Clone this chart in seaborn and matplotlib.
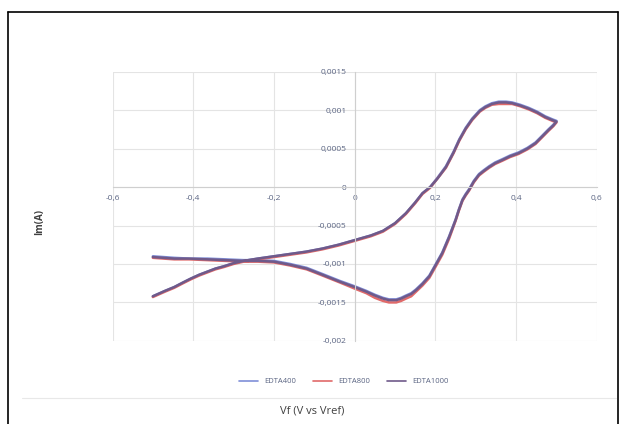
import pandas as pd
import matplotlib
matplotlib.use("Agg")
import matplotlib.pyplot as plt
import seaborn as sns
from matplotlib.lines import Line2D
from matplotlib.ticker import FuncFormatter

sns.set_style("white")
plt.rcParams['font.family'] = ['Open Sans', 'DejaVu Sans']

# potential (V vs Vref), one full CV loop starting at -0.5 V
v = [-0.5, -0.47, -0.447, -0.425, -0.406, -0.385, -0.365, -0.345, -0.324, -0.3,
     -0.275, -0.24, -0.2, -0.16, -0.12, -0.08, -0.04, 0.0, 0.04, 0.07,
     0.1, 0.127, 0.15, 0.168, 0.187, 0.205, 0.226, 0.245, 0.259, 0.275,
     0.291, 0.31, 0.324, 0.34, 0.357, 0.375, 0.39, 0.41, 0.431, 0.452,
     0.472, 0.49, 0.5, 0.492, 0.48, 0.465, 0.448, 0.428, 0.406, 0.385,
     0.365, 0.348, 0.333, 0.32, 0.308, 0.295, 0.283, 0.275, 0.267, 0.258,
     0.25, 0.234, 0.217, 0.2, 0.185, 0.168, 0.152, 0.14, 0.127, 0.115,
     0.103, 0.085, 0.07, 0.05, 0.029, 0.0, -0.037, -0.08, -0.119, -0.16,
     -0.2, -0.24, -0.275, -0.32, -0.365, -0.41, -0.447, -0.5]

i_400 = [-0.00142, -0.00135, -0.0013, -0.00124, -0.00119, -0.00114, -0.0011, -0.00106, -0.00103, -0.00099,
         -0.00096, -0.00093, -0.0009, -0.00087, -0.00084, -0.0008, -0.00075, -0.00069, -0.00063, -0.00057,
         -0.00047, -0.00034, -0.0002, -0.00008, 0.0, 0.00012, 0.00027, 0.00046, 0.00062, 0.00077,
         0.00089, 0.001, 0.00105, 0.00109, 0.00111, 0.00111, 0.0011, 0.00107, 0.00103, 0.00098,
         0.00092, 0.00088, 0.00086, 0.00081, 0.00075, 0.00067, 0.00058, 0.00051, 0.00045, 0.00041,
         0.00036, 0.00032, 0.00027, 0.00022, 0.00017, 0.00008, -0.00003, -0.00009, -0.00016, -0.00029,
         -0.00042, -0.00064, -0.00085, -0.00101, -0.00115, -0.00125, -0.00133, -0.00138, -0.00141, -0.00144,
         -0.00146, -0.00146, -0.00144, -0.0014, -0.00135, -0.00129, -0.00122, -0.00113, -0.00105, -0.001,
         -0.00096, -0.00095, -0.00095, -0.00094, -0.00093, -0.00093, -0.00092, -0.0009]

i_800 = [-0.00143, -0.00136, -0.00131, -0.00125, -0.0012, -0.00115, -0.00111, -0.00107, -0.00104, -0.001,
         -0.00097, -0.00094, -0.00091, -0.00088, -0.00085, -0.00081, -0.00076, -0.0007, -0.00064, -0.00058,
         -0.00048, -0.00035, -0.00021, -0.00009, -0.00001, 0.00011, 0.00025, 0.00044, 0.0006, 0.00075,
         0.00087, 0.00098, 0.00103, 0.00107, 0.00108, 0.00108, 0.00108, 0.00105, 0.00101, 0.00096,
         0.0009, 0.00086, 0.00084, 0.00079, 0.00073, 0.00065, 0.00056, 0.00049, 0.00043, 0.00039,
         0.00034, 0.0003, 0.00025, 0.0002, 0.00015, 0.00006, -0.00005, -0.00011, -0.00018, -0.00031,
         -0.00044, -0.00067, -0.00088, -0.00104, -0.00118, -0.00128, -0.00136, -0.00142, -0.00145, -0.00148,
         -0.0015, -0.0015, -0.00148, -0.00144, -0.00138, -0.00132, -0.00124, -0.00115, -0.00107, -0.00102,
         -0.00098, -0.00097, -0.00097, -0.00096, -0.00095, -0.00094, -0.00094, -0.00092]

i_1000 = [-0.00142, -0.00135, -0.0013, -0.00124, -0.00119, -0.00114, -0.0011, -0.00106, -0.00103, -0.00099,
          -0.00096, -0.00093, -0.0009, -0.00087, -0.00084, -0.0008, -0.00075, -0.00069, -0.00063, -0.00057,
          -0.00047, -0.00034, -0.0002, -0.00008, 0.0, 0.00011, 0.00026, 0.00045, 0.00061, 0.00076,
          0.00088, 0.00099, 0.00104, 0.00108, 0.0011, 0.0011, 0.00109, 0.00106, 0.00102, 0.00097,
          0.00091, 0.00087, 0.00085, 0.0008, 0.00074, 0.00066, 0.00057, 0.0005, 0.00044, 0.0004,
          0.00035, 0.00031, 0.00026, 0.00021, 0.00016, 0.00007, -0.00004, -0.0001, -0.00017, -0.0003,
          -0.00043, -0.00065, -0.00086, -0.00102, -0.00116, -0.00126, -0.00134, -0.00139, -0.00142, -0.00145,
          -0.00147, -0.00147, -0.00145, -0.00141, -0.00136, -0.0013, -0.00123, -0.00114, -0.00106, -0.00101,
          -0.00097, -0.00096, -0.00096, -0.00095, -0.00094, -0.00093, -0.00093, -0.00091]

series = ["EDTA400", "EDTA800", "EDTA1000"]
colors = ["#7f8fd8", "#e06a6a", "#6f5a8a"]

x_ticks = [-0.6, -0.4, -0.2, 0, 0.2, 0.4, 0.6]
y_ticks = [-0.002, -0.0015, -0.001, -0.0005, 0, 0.0005, 0.001, 0.0015]

frames = []
for name, cur in zip(series, [i_400, i_800, i_1000]):
    frames.append(pd.DataFrame({"V": v, "I": cur, "series": name}))
df = pd.concat(frames, ignore_index=True)

fig = plt.figure(figsize=(6.25, 4.24), dpi=100)
ax = fig.add_axes([0.18, 0.196, 0.775, 0.635])

sns.lineplot(data=df, x="V", y="I", hue="series", palette=colors, sort=False,
             estimator=None, linewidth=1.8, ax=ax, legend=False)

ax.set_xlim(-0.6, 0.6)
ax.set_ylim(-0.002, 0.0015)
ax.set_xticks(x_ticks)
ax.set_yticks(y_ticks)

def comma(val, pos):
    if abs(val) < 1e-12:
        return "0"
    return ("%g" % val).replace(".", ",")

ax.xaxis.set_major_formatter(FuncFormatter(comma))
ax.yaxis.set_major_formatter(FuncFormatter(comma))
ax.grid(True, color="#e4e4e4", linewidth=0.8)
ax.set_axisbelow(True)

for s in ["top", "right"]:
    ax.spines[s].set_visible(False)
ax.spines["left"].set_position(("data", 0))
ax.spines["bottom"].set_position(("data", 0))
ax.spines["left"].set_color("#cfcfcf")
ax.spines["bottom"].set_color("#cfcfcf")
ax.tick_params(axis="both", length=0, labelsize=6, labelcolor="#5a6482", pad=6)
ax.set_xlabel("")
ax.set_ylabel("")

fig.text(0.064, 0.477, "Im(A)", rotation=90, ha="center", va="center",
         fontsize=7, color="#404040", fontweight="bold")
fig.text(0.5, 0.031, "Vf (V vs Vref)", ha="center", va="center",
         fontsize=8, color="#404040")

handles = [Line2D([0], [0], color=c, linewidth=1.2) for c in colors]
fig.legend(handles, series, loc="center", bbox_to_anchor=(0.55, 0.1), ncol=3,
           frameon=False, fontsize=5.5, handlelength=2.5, columnspacing=2.2,
           labelcolor="#5a6482")

# chart border
fig.add_artist(Line2D([0.012, 0.012], [0.0, 0.972], color="black", linewidth=1.2))
fig.add_artist(Line2D([0.012, 0.989], [0.972, 0.972], color="black", linewidth=1.2))
fig.add_artist(Line2D([0.989, 0.989], [0.0, 0.972], color="black", linewidth=1.2))
fig.add_artist(Line2D([0.035, 0.985], [0.062, 0.062], color="#e8e8e8", linewidth=0.8))

fig.savefig("out.png", dpi=100, facecolor="white")
